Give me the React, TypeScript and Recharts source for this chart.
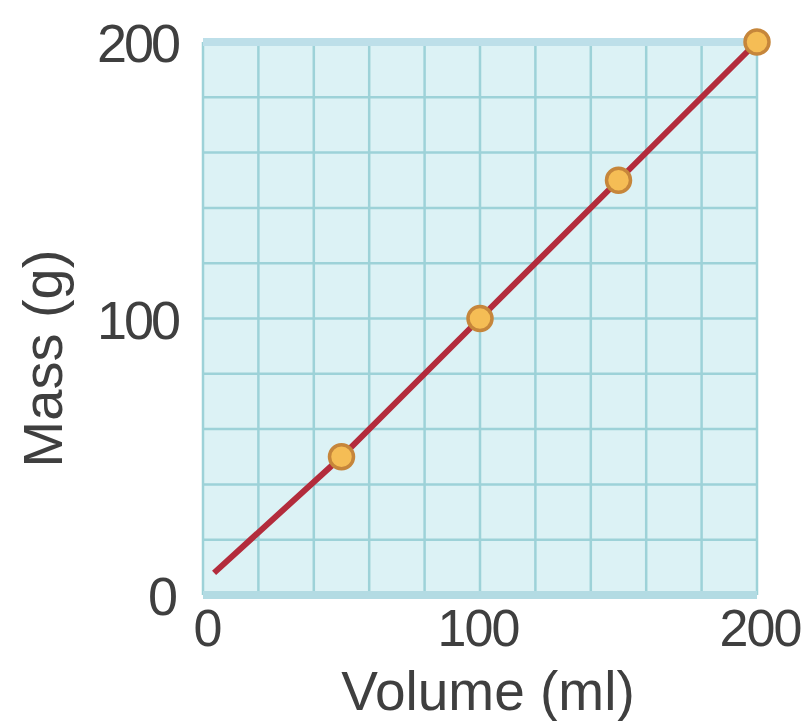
import { LineChart, Line, XAxis, YAxis, CartesianGrid, Label, ReferenceLine } from 'recharts';

// volume (ml) and mass (g); first point is where the drawn line begins
const volume = [4, 50, 100, 150, 200];
const mass = [8, 50, 100, 150, 200];
const markedVolumes = [50, 100, 150, 200];

const gridTicks = [0, 20, 40, 60, 80, 100, 120, 140, 160, 180, 200];
const labelTicks = [0, 100, 200];

const data = volume.map((v, i) => ({ volume: v, mass: mass[i] }));

const TEXT = '#3f3f3f';
const FONT = '"Liberation Sans", Arial, sans-serif';

const Dot = (props: any) => {
  const { cx, cy, payload, index } = props;
  if (!markedVolumes.includes(payload.volume)) return <g key={`d${index}`} />;
  return (
    <circle key={`d${index}`} cx={cx} cy={cy} r={12} fill="#f5bd55" stroke="#c6863b" strokeWidth={3.5} />
  );
};

const XTick = (props: any) => {
  const { x, y, payload } = props;
  if (!labelTicks.includes(payload.value)) return <g />;
  const shift = payload.value === 0 ? 4 : payload.value === 200 ? 3 : -2;
  return (
    <text x={x + shift} y={y + 43} textAnchor="middle" fill={TEXT} fontSize={52} fontFamily={FONT} letterSpacing={-2}>
      {payload.value}
    </text>
  );
};

const YTick = (props: any) => {
  const { x, y, payload } = props;
  if (!labelTicks.includes(payload.value)) return <g />;
  const dx = payload.value === 0 ? -20 : -17;
  return (
    <text x={x + dx} y={y + 20} textAnchor="end" fill={TEXT} fontSize={54} fontFamily={FONT} letterSpacing={-3}>
      {payload.value}
    </text>
  );
};

export default function App() {
  return (
    <div style={{ position: 'absolute', left: 0, top: 0, width: 812, height: 721, background: '#fff' }}>
      <LineChart width={812} height={721} data={data} margin={{ top: 42, right: 55, bottom: 0, left: 0 }}>
        <CartesianGrid fill="#dcf2f5" stroke="#9dd2d8" strokeWidth={2.5} />
        <XAxis
          type="number"
          dataKey="volume"
          domain={[0, 200]}
          ticks={gridTicks}
          height={126}
          axisLine={false}
          tickLine={false}
          tick={<XTick />}
          interval={0}
        >
          <Label
            content={({ viewBox }: any) => (
              <text
                x={viewBox.x + viewBox.width / 2 + 8}
                y={viewBox.y + 115}
                textAnchor="middle"
                fill={TEXT}
                fontSize={55}
                fontFamily={FONT}
              >
                Volume (ml)
              </text>
            )}
          />
        </XAxis>
        <YAxis
          type="number"
          domain={[0, 200]}
          ticks={gridTicks}
          width={203}
          axisLine={false}
          tickLine={false}
          tick={<YTick />}
          interval={0}
        >
          <Label
            content={({ viewBox }: any) => {
              const bx = viewBox.x + 62;
              const cy = viewBox.y + viewBox.height / 2 + 40;
              return (
                <text
                  transform={`translate(${bx},${cy}) rotate(-90)`}
                  textAnchor="middle"
                  fill={TEXT}
                  fontSize={56}
                  fontFamily={FONT}
                >
                  Mass (g)
                </text>
              );
            }}
          />
        </YAxis>
        <ReferenceLine y={200} stroke="#bddfe9" strokeWidth={8} />
        <ReferenceLine y={0} stroke="#b3dbe3" strokeWidth={8} />
        <Line
          type="linear"
          dataKey="mass"
          stroke="#b32c3c"
          strokeWidth={6}
          dot={<Dot />}
          activeDot={false}
          isAnimationActive={false}
        />
      </LineChart>
    </div>
  );
}
